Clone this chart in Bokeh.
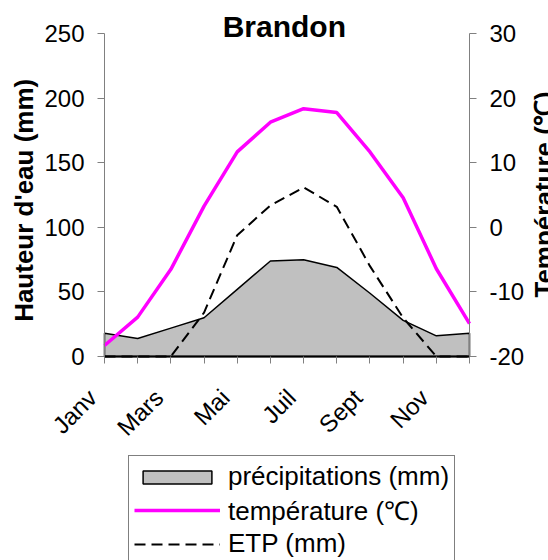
import math
from bokeh.plotting import figure
from bokeh.models import (Range1d, LinearAxis, FixedTicker, Legend, LegendItem, Label,
                          LabelSet, ColumnDataSource)
from bokeh.core.properties import value
from bokeh.embed import file_html
from bokeh.resources import INLINE

# ---- data ----
months = ["Janv", "Févr", "Mars", "Avr", "Mai", "Juin",
          "Juil", "Août", "Sept", "Oct", "Nov", "Déc"]
shown_months = ["Janv", "Mars", "Mai", "Juil", "Sept", "Nov"]
precip = [18, 14, 22, 30, 52, 74, 75, 69, 49, 28, 16, 18]          # mm
temp = [-18.3, -13.9, -6.5, 3.3, 11.7, 16.3, 18.4, 17.8, 11.7, 4.6, -6.4, -14.9]  # °C
etp = [0, 0, 0, 34, 94, 117, 131, 116, 70, 30, 0, 0]              # mm
water_ticks = [0, 50, 100, 150, 200, 250]
temp_ticks = [-20, -10, 0, 10, 20, 30]

FONT = "Liberation Sans"
x = list(range(len(months)))
last = len(months) - 1

# The frame covers the whole canvas; the axes are pinned inside it.
p = figure(width=548, height=560, output_backend="svg", toolbar_location=None,
           x_range=Range1d(-3.134, 13.38), y_range=Range1d(-158.04, 275.8),
           min_border_left=0, min_border_right=0, min_border_top=0,
           min_border_bottom=0)
p.title.visible = False
p.extra_y_ranges = {"temp": Range1d(-51.61, 35.16)}
p.xgrid.visible = False
p.ygrid.visible = False
p.outline_line_color = None
p.background_fill_color = "white"
p.border_fill_color = "white"

px = x + [x[-1], x[0]]
py = precip + [0, 0]
r_p = p.patch(px, py, fill_color="#C0C0C0", line_color="black", line_width=1.5)
r_e = p.line(x, etp, line_color="black", line_dash="11 6", line_width=2)
r_t = p.line(x, temp, line_color="#FF00FF", line_width=3.5, y_range_name="temp")

# x axis (month labels drawn by a LabelSet just below)
xa = p.xaxis[0]
xa.fixed_location = 0
xa.ticker = FixedTicker(ticks=x)
xa.bounds = (0, last)
xa.major_label_overrides = {i: "" for i in x}
xa.axis_line_color = "black"
xa.axis_line_width = 2
xa.major_tick_line_color = "#808080"
xa.major_tick_out = 7
xa.major_tick_in = 0
xa.minor_tick_line_color = None

month_src = ColumnDataSource(dict(x=[months.index(m) for m in shown_months],
                                  y=[0] * len(shown_months),
                                  text=shown_months))
p.add_layout(LabelSet(x="x", y="y", text="text", source=month_src,
                      angle=math.pi / 4, x_offset=-12, y_offset=-37,
                      text_align="right", text_baseline="middle",
                      text_font=value(FONT), text_font_size=value("24px"),
                      text_color="black"))

# left axis
ya = p.yaxis[0]
ya.fixed_location = 0
ya.ticker = FixedTicker(ticks=water_ticks)
ya.bounds = (0, 250)
ya.axis_line_color = "#808080"
ya.major_tick_line_color = "#808080"
ya.major_tick_out = 7
ya.major_tick_in = 0
ya.minor_tick_line_color = None
ya.major_label_standoff = 13
ya.major_label_text_font = FONT
ya.major_label_text_font_size = "24px"
ya.major_label_text_color = "black"

# right axis
ra = LinearAxis(y_range_name="temp", ticker=FixedTicker(ticks=temp_ticks),
                fixed_location=last, bounds=(-20, 30))
ra.axis_line_color = "#808080"
ra.major_tick_line_color = "#808080"
ra.major_tick_out = 7
ra.major_tick_in = 0
ra.minor_tick_line_color = None
ra.major_label_standoff = 13
ra.major_label_text_font = FONT
ra.major_label_text_font_size = "24px"
ra.major_label_text_color = "black"
ra.major_label_overrides = {t: str(t) for t in temp_ticks}
p.add_layout(ra, "right")

# axis titles and chart title
p.add_layout(Label(x=-2.411, y=121, text="Hauteur d'eau (mm)",
                   angle=math.pi / 2, text_align="center", text_baseline="middle",
                   text_font=FONT, text_font_style="bold",
                   text_font_size="26px", text_color="black"))
p.add_layout(Label(x=13.25, y=125.5, text="Température (℃)",
                   angle=math.pi / 2, text_align="center", text_baseline="middle",
                   text_font=FONT, text_font_style="bold",
                   text_font_size="26px", text_color="black"))
p.add_layout(Label(x=5.42, y=255.4, text="Brandon", text_align="center",
                   text_baseline="middle", text_font=FONT,
                   text_font_style="bold", text_font_size="30px", text_color="black"))

legend = Legend(items=[
    LegendItem(label="précipitations (mm)", renderers=[r_p]),
    LegendItem(label="température (℃)", renderers=[r_t]),
    LegendItem(label="ETP (mm)", renderers=[r_e]),
], location=(128, -5), orientation="vertical",
    label_text_font=FONT, label_text_font_size="26px", label_text_color="black",
    glyph_width=86, glyph_height=16, label_height=28, label_standoff=8,
    padding=5, spacing=0, margin=0,
    border_line_color="black", border_line_width=1,
    background_fill_color="white", background_fill_alpha=1.0)
p.add_layout(legend, "center")

open("out.html", "w").write(file_html(p, INLINE))
